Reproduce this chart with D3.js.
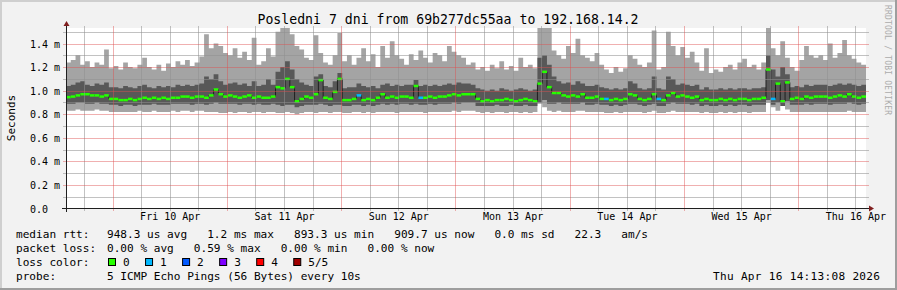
<!DOCTYPE html>
<html>
<head>
<meta charset="utf-8">
<script src="https://cdn.jsdelivr.net/npm/d3@7"></script>
<style>
body { margin: 0; background: #f2f2f2; }
svg text { font-family: "DejaVu Sans Mono", monospace; fill: #000; }
</style>
</head>
<body>
<script>
// hourly samples, Apr 9 14:13 -> Apr 16 14:13 (ms)
const maxRtt = [
    1.24, 1.26, 1.30, 1.22, 1.25, 1.20, 1.24, 1.22, 1.35, 1.19, 1.21, 1.18,
    1.24, 1.20, 1.19, 1.22, 1.28, 1.20, 1.18, 1.22, 1.17, 1.23, 1.20, 1.25,
    1.22, 1.26, 1.21, 1.24, 1.29, 1.48, 1.36, 1.40, 1.38, 1.32, 1.30, 1.36,
    1.28, 1.33, 1.26, 1.45, 1.22, 1.25, 1.36, 1.29, 1.50, 1.56, 1.56, 1.48,
    1.38, 1.35, 1.28, 1.26, 1.47, 1.32, 1.24, 1.22, 1.30, 1.49, 1.25, 1.30,
    1.22, 1.28, 1.36, 1.25, 1.31, 1.20, 1.38, 1.28, 1.42, 1.30, 1.27, 1.22,
    1.31, 1.26, 1.34, 1.28, 1.24, 1.32, 1.30, 1.25, 1.38, 1.33, 1.30, 1.28,
    1.22, 1.24, 1.18, 1.20, 1.17, 1.22, 1.19, 1.25, 1.18, 1.21, 1.17, 1.28,
    1.20, 1.22, 1.19, 1.56, 1.56, 1.56, 1.34, 1.30, 1.27, 1.38, 1.32, 1.44,
    1.30, 1.28, 1.25, 1.32, 1.22, 1.18, 1.15, 1.20, 1.16, 1.19, 1.30, 1.27,
    1.22, 1.20, 1.24, 1.51, 1.18, 1.20, 1.50, 1.38, 1.30, 1.37, 1.28, 1.33,
    1.24, 1.17, 1.36, 1.15, 1.18, 1.16, 1.20, 1.22, 1.18, 1.24, 1.27, 1.20,
    1.22, 1.18, 1.24, 1.56, 1.36, 1.30, 1.42, 1.28, 1.20, 1.17, 1.26, 1.38,
    1.30, 1.28, 1.30, 1.26, 1.40, 1.28, 1.32, 1.43, 1.30, 1.27, 1.24, 1.22
];
const upperRtt = [
    1.04, 1.05, 1.07, 1.08, 1.05, 1.04, 1.06, 1.05, 1.07, 1.03, 1.03, 1.02,
    1.04, 1.03, 1.02, 1.04, 1.05, 1.03, 1.02, 1.04, 1.03, 1.04, 1.03, 1.05,
    1.04, 1.05, 1.04, 1.05, 1.06, 1.12, 1.10, 1.14, 1.08, 1.05, 1.06, 1.07,
    1.05, 1.06, 1.04, 1.08, 1.04, 1.05, 1.10, 1.05, 1.16, 1.20, 1.25, 1.18,
    1.10, 1.07, 1.05, 1.04, 1.12, 1.14, 1.04, 1.03, 1.08, 1.15, 1.02, 1.03,
    1.03, 1.06, 1.04, 1.03, 1.04, 1.02, 1.05, 1.06, 1.04, 1.05, 1.04, 1.05,
    1.05, 1.09, 1.04, 1.05, 1.04, 1.05, 1.04, 1.05, 1.06, 1.05, 1.07, 1.06,
    1.06, 1.05, 1.02, 1.01, 1.00, 1.01, 1.00, 1.02, 1.01, 1.00, 1.01, 1.02,
    1.01, 1.00, 1.01, 1.28, 1.30, 1.22, 1.12, 1.08, 1.06, 1.07, 1.05, 1.08,
    1.06, 1.04, 1.04, 1.05, 1.03, 1.02, 1.01, 1.02, 1.01, 1.02, 1.08, 1.06,
    1.02, 1.01, 1.02, 1.12, 1.02, 1.01, 1.12, 1.10, 1.05, 1.06, 1.05, 1.04,
    1.05, 1.01, 1.03, 1.01, 1.01, 1.02, 1.01, 1.02, 1.01, 1.02, 1.02, 1.01,
    1.02, 1.02, 1.03, 1.30, 1.18, 1.12, 1.20, 1.14, 1.03, 1.04, 1.03, 1.05,
    1.04, 1.05, 1.05, 1.05, 1.04, 1.05, 1.06, 1.05, 1.06, 1.05, 1.04, 1.05
];
const medianRtt = [
    0.945, 0.95, 0.96, 0.97, 0.97, 0.96, 0.96, 0.95, 0.96, 0.93, 0.93, 0.92,
    0.92, 0.93, 0.92, 0.93, 0.94, 0.93, 0.94, 0.93, 0.94, 0.93, 0.94, 0.94,
    0.95, 0.95, 0.94, 0.95, 0.95, 0.94, 0.96, 1.01, 0.97, 0.95, 0.96, 0.95,
    0.94, 0.95, 0.96, 0.94, 0.95, 0.94, 0.94, 0.95, 1.03, 1.02, 1.10, 1.03,
    0.91, 0.93, 0.95, 0.94, 0.97, 1.09, 0.94, 0.93, 0.99, 1.10, 0.92, 0.92,
    0.93, 0.96, 0.92, 0.93, 0.92, 0.94, 0.97, 0.94, 0.95, 0.94, 0.95, 0.95,
    0.94, 1.04, 0.94, 0.94, 0.95, 0.94, 0.95, 0.95, 0.96, 0.97, 0.96, 0.97,
    0.97, 0.97, 0.93, 0.91, 0.92, 0.91, 0.92, 0.92, 0.93, 0.92, 0.91, 0.92,
    0.93, 0.92, 0.91, 1.06, 1.16, 1.03, 0.98, 0.98, 0.96, 0.95, 0.96, 0.95,
    0.97, 0.94, 0.94, 0.95, 0.93, 0.93, 0.92, 0.93, 0.92, 0.93, 0.97, 0.96,
    0.93, 0.92, 0.93, 0.97, 0.93, 0.92, 0.96, 0.98, 0.95, 0.96, 0.95, 0.94,
    0.95, 0.92, 0.93, 0.92, 0.92, 0.93, 0.92, 0.93, 0.92, 0.93, 0.93, 0.92,
    0.93, 0.93, 0.94, 1.18, 0.93, 1.06, 0.91, 1.07, 0.93, 0.94, 0.93, 0.95,
    0.94, 0.95, 0.95, 0.95, 0.94, 0.95, 0.96, 0.95, 0.97, 0.95, 0.94, 0.95
];
const lowerRtt = [
    0.89, 0.89, 0.90, 0.90, 0.89, 0.89, 0.90, 0.89, 0.89, 0.88, 0.88, 0.87,
    0.88, 0.88, 0.87, 0.88, 0.88, 0.88, 0.89, 0.88, 0.88, 0.88, 0.89, 0.89,
    0.89, 0.89, 0.88, 0.89, 0.89, 0.88, 0.89, 0.90, 0.89, 0.89, 0.89, 0.89,
    0.88, 0.89, 0.89, 0.88, 0.89, 0.88, 0.88, 0.89, 0.88, 0.87, 0.88, 0.88,
    0.86, 0.87, 0.88, 0.88, 0.88, 0.89, 0.88, 0.87, 0.88, 0.88, 0.87, 0.87,
    0.88, 0.88, 0.87, 0.88, 0.87, 0.88, 0.89, 0.88, 0.89, 0.88, 0.89, 0.89,
    0.88, 0.89, 0.88, 0.88, 0.89, 0.88, 0.89, 0.89, 0.89, 0.90, 0.89, 0.90,
    0.90, 0.90, 0.87, 0.87, 0.87, 0.87, 0.88, 0.87, 0.87, 0.88, 0.87, 0.87,
    0.88, 0.87, 0.87, 0.90, 0.92, 0.89, 0.89, 0.90, 0.89, 0.89, 0.89, 0.89,
    0.90, 0.88, 0.88, 0.89, 0.88, 0.88, 0.87, 0.88, 0.87, 0.88, 0.89, 0.89,
    0.88, 0.87, 0.88, 0.89, 0.87, 0.87, 0.89, 0.90, 0.89, 0.89, 0.89, 0.88,
    0.89, 0.87, 0.88, 0.87, 0.87, 0.88, 0.87, 0.88, 0.87, 0.88, 0.88, 0.87,
    0.88, 0.88, 0.88, 0.92, 0.88, 0.90, 0.87, 0.91, 0.88, 0.88, 0.88, 0.89,
    0.88, 0.89, 0.89, 0.89, 0.88, 0.89, 0.89, 0.89, 0.90, 0.89, 0.88, 0.89
];
const minRtt = [
    0.83, 0.83, 0.84, 0.83, 0.83, 0.83, 0.84, 0.83, 0.83, 0.82, 0.82, 0.82,
    0.82, 0.82, 0.82, 0.83, 0.82, 0.82, 0.83, 0.82, 0.82, 0.82, 0.83, 0.82,
    0.83, 0.83, 0.82, 0.83, 0.83, 0.82, 0.82, 0.82, 0.81, 0.81, 0.82, 0.81,
    0.82, 0.82, 0.81, 0.82, 0.82, 0.81, 0.82, 0.82, 0.81, 0.81, 0.82, 0.81,
    0.80, 0.81, 0.82, 0.82, 0.81, 0.82, 0.82, 0.81, 0.82, 0.82, 0.81, 0.81,
    0.82, 0.82, 0.81, 0.82, 0.81, 0.82, 0.82, 0.82, 0.82, 0.81, 0.82, 0.82,
    0.82, 0.82, 0.82, 0.81, 0.82, 0.82, 0.82, 0.82, 0.82, 0.83, 0.82, 0.83,
    0.83, 0.83, 0.82, 0.81, 0.82, 0.81, 0.82, 0.82, 0.81, 0.82, 0.82, 0.81,
    0.82, 0.81, 0.82, 0.89, 0.86, 0.83, 0.82, 0.83, 0.82, 0.82, 0.82, 0.83,
    0.83, 0.82, 0.82, 0.82, 0.82, 0.81, 0.81, 0.82, 0.81, 0.82, 0.82, 0.82,
    0.82, 0.81, 0.82, 0.83, 0.81, 0.81, 0.82, 0.83, 0.82, 0.82, 0.82, 0.82,
    0.82, 0.81, 0.82, 0.81, 0.81, 0.82, 0.81, 0.82, 0.81, 0.82, 0.82, 0.81,
    0.82, 0.82, 0.82, 0.90, 0.86, 0.83, 0.89, 0.84, 0.82, 0.82, 0.82, 0.82,
    0.82, 0.82, 0.82, 0.82, 0.82, 0.82, 0.82, 0.82, 0.83, 0.82, 0.82, 0.82
];
// hours where one of the 5 pings was lost
const lossHours = [61, 74, 113, 124, 148];

const lossLabels = ["0", "1", "2", "3", "4", "5/5"];
const lossColors = ["#26ff00", "#00b8ff", "#0059ff", "#7e00ff", "#ff0000", "#a00000"];
const yTicks = [0, 0.2, 0.4, 0.6, 0.8, 1.0, 1.2, 1.4];
const yMinor = [0.1, 0.3, 0.5, 0.7, 0.9, 1.1, 1.3, 1.5];

const titleText = "Posledni 7 dni from 69b277dc55aa to 192.168.14.2";
const rttLabel = "median rtt:";
const rttValues = "948.3 us avg   1.2 ms max   893.3 us min   909.7 us now   0.0 ms sd   22.3   am/s";
const lossLabel = "packet loss:";
const lossValues = "0.00 % avg   0.59 % max   0.00 % min   0.00 % now";
const probeLabel = "probe:";
const probeText = "5 ICMP Echo Pings (56 Bytes) every 10s";
const stampText = "Thu Apr 16 14:13:08 2026";

const t0 = new Date(2026, 3, 9, 14, 13, 8),
    t1 = new Date(2026, 3, 16, 14, 13, 8);

const W = 897, H = 290;

let svg = d3.select("body")
    .append("svg")
    .attr("width", W)
    .attr("height", H);

// background + rrdtool style shade
svg.append("rect").attr("width", W).attr("height", H).attr("fill", "#f2f2f2");
svg.append("path").attr("d", "M0,0H" + W + "V2H2V" + H + "H0Z").attr("fill", "#cfcfcf");
svg.append("path").attr("d", "M" + W + ",0V" + H + "H0V" + (H - 2) + "H" + (W - 2) + "V0Z").attr("fill", "#9e9e9e");

let xScale = d3.scaleTime().domain([t0, t1]).range([66, 866]);
let yScale = d3.scaleLinear().domain([0, 1.532]).range([208.5, 28]);

svg.append("rect")
    .attr("x", 66).attr("y", 28)
    .attr("width", 800).attr("height", 180.5)
    .attr("fill", "#fff");

svg.append("defs").append("clipPath").attr("id", "plot")
    .append("rect").attr("x", 66).attr("y", 28).attr("width", 800).attr("height", 180.5);

let rows = medianRtt.map((m, i) => ({
    t: d3.timeHour.offset(t0, i),
    t2: d3.timeHour.offset(t0, i + 1),
    max: maxRtt[i], hi: upperRtt[i], med: m, lo: lowerRtt[i], min: minRtt[i],
    loss: lossHours.includes(i) ? 1 : 0
}));
let stepRows = rows.concat([Object.assign({}, rows[rows.length - 1], {t: t1})]);

let g = svg.append("g").attr("clip-path", "url(#plot)");

// smoke
g.append("path")
    .datum(stepRows)
    .attr("fill", "#a4a4a4")
    .attr("d", d3.area().curve(d3.curveStepAfter)
        .x(d => xScale(d.t)).y0(d => yScale(d.min)).y1(d => yScale(d.max)));
g.append("path")
    .datum(stepRows)
    .attr("fill", "#585858")
    .attr("d", d3.area().curve(d3.curveStepAfter)
        .x(d => xScale(d.t)).y0(d => yScale(d.lo)).y1(d => yScale(d.hi)));

// median
g.append("path")
    .datum(stepRows)
    .attr("fill", "none")
    .attr("stroke", "#202020")
    .attr("stroke-width", 1)
    .attr("d", d3.line().curve(d3.curveStepAfter)
        .x(d => xScale(d.t)).y(d => yScale(d.med)));
g.selectAll("rect.med")
    .data(rows)
    .enter()
    .append("rect")
    .attr("class", "med")
    .attr("x", d => xScale(d.t))
    .attr("width", d => xScale(d.t2) - xScale(d.t))
    .attr("y", d => yScale(d.med) - 1.25)
    .attr("height", 2.5)
    .attr("fill", d => lossColors[d.loss]);

// grid on top of the data, like rrdtool
let days = d3.timeDay.range(t0, t1);
let sixH = d3.timeHour.every(6).range(t0, t1).filter(d => d.getHours() !== 0);
let grid = svg.append("g").attr("fill", "none").attr("stroke-width", 1);
const minorCol = "rgba(143,143,143,0.55)", majorCol = "rgba(222,79,79,0.45)";
grid.selectAll("path.vmin").data(sixH).enter().append("path").attr("class", "vmin")
    .attr("d", d => "M" + (Math.round(xScale(d)) + 0.5) + ",26V211").attr("stroke", minorCol);
grid.selectAll("path.hmin").data(yMinor).enter().append("path").attr("class", "hmin")
    .attr("d", d => "M63," + (Math.round(yScale(d)) + 0.5) + "H869").attr("stroke", minorCol);
grid.selectAll("path.vmaj").data(days).enter().append("path").attr("class", "vmaj")
    .attr("d", d => "M" + (Math.round(xScale(d)) + 0.5) + ",26V211").attr("stroke", majorCol);
grid.selectAll("path.hmaj").data(yTicks.slice(1)).enter().append("path").attr("class", "hmaj")
    .attr("d", d => "M63," + (Math.round(yScale(d)) + 0.5) + "H869").attr("stroke", majorCol);

// axes lines + arrows
svg.append("path").attr("d", "M62,208.5H870").attr("stroke", "#1f1f1f").attr("stroke-width", 1);
svg.append("path").attr("d", "M66.5,212V25").attr("stroke", "#1f1f1f").attr("stroke-width", 1);
svg.append("path").attr("d", "M869,205.5L874,208.5L869,211.5Z").attr("fill", "#801f1f");
svg.append("path").attr("d", "M63.5,26L66.5,21L69.5,26Z").attr("fill", "#801f1f");

// tick labels
let noons = days.map(d => d3.timeHour.offset(d, 12));
let xAxis = svg.append("g")
    .attr("transform", "translate(0,208.5)")
    .call(d3.axisBottom(xScale).tickValues(noons).tickFormat(d3.timeFormat("%a %d %b")).tickSize(0));
xAxis.select(".domain").remove();
xAxis.selectAll("text").attr("y", 11).attr("dy", null)
    .style("font-size", "10px").style("font-family", "DejaVu Sans Mono");

let yAxis = svg.append("g")
    .attr("transform", "translate(66.5,0)")
    .call(d3.axisLeft(yScale).tickValues(yTicks)
        .tickFormat(d => d === 0 ? "0.0" : d3.format(".1f")(d) + " m").tickSize(0));
yAxis.select(".domain").remove();
yAxis.selectAll("text").attr("x", -36.5).attr("text-anchor", "start").attr("dy", "0.35em")
    .style("font-size", "10px").style("font-family", "DejaVu Sans Mono");

// title, y label, watermark
svg.append("text").attr("x", 448).attr("y", 24).attr("text-anchor", "middle")
    .style("font-size", "13.2px").text(titleText);
svg.append("text").attr("transform", "translate(15,118) rotate(-90)")
    .attr("text-anchor", "middle").style("font-size", "11px").text("Seconds");
svg.append("text").attr("transform", "translate(885,5) rotate(90)")
    .style("font-size", "8px").style("letter-spacing", "0.2px").style("fill", "#acacac")
    .text("RRDTOOL / TOBI OETIKER");

// legend
function legendText(x, y, s, anchor) {
    return svg.append("text").attr("x", x).attr("y", y)
        .attr("text-anchor", anchor || "start")
        .style("font-size", "11.1px").style("white-space", "pre").text(s);
}
legendText(16, 238, rttLabel);
legendText(107, 238, rttValues);
legendText(16, 252, lossLabel);
legendText(107, 252, lossValues);
legendText(16, 266, "loss color:");
lossLabels.forEach((l, i) => {
    let bx = 108 + i * 37.05;
    svg.append("rect").attr("x", bx + 0.5).attr("y", 258.5).attr("width", 7).attr("height", 7)
        .attr("fill", lossColors[i]).attr("stroke", "#000").attr("stroke-width", 1);
    legendText(bx + 15, 266, l);
});
legendText(16, 280, probeLabel);
legendText(107, 280, probeText);
legendText(713, 280, stampText).attr("textLength", 167);
</script>
</body>
</html>
